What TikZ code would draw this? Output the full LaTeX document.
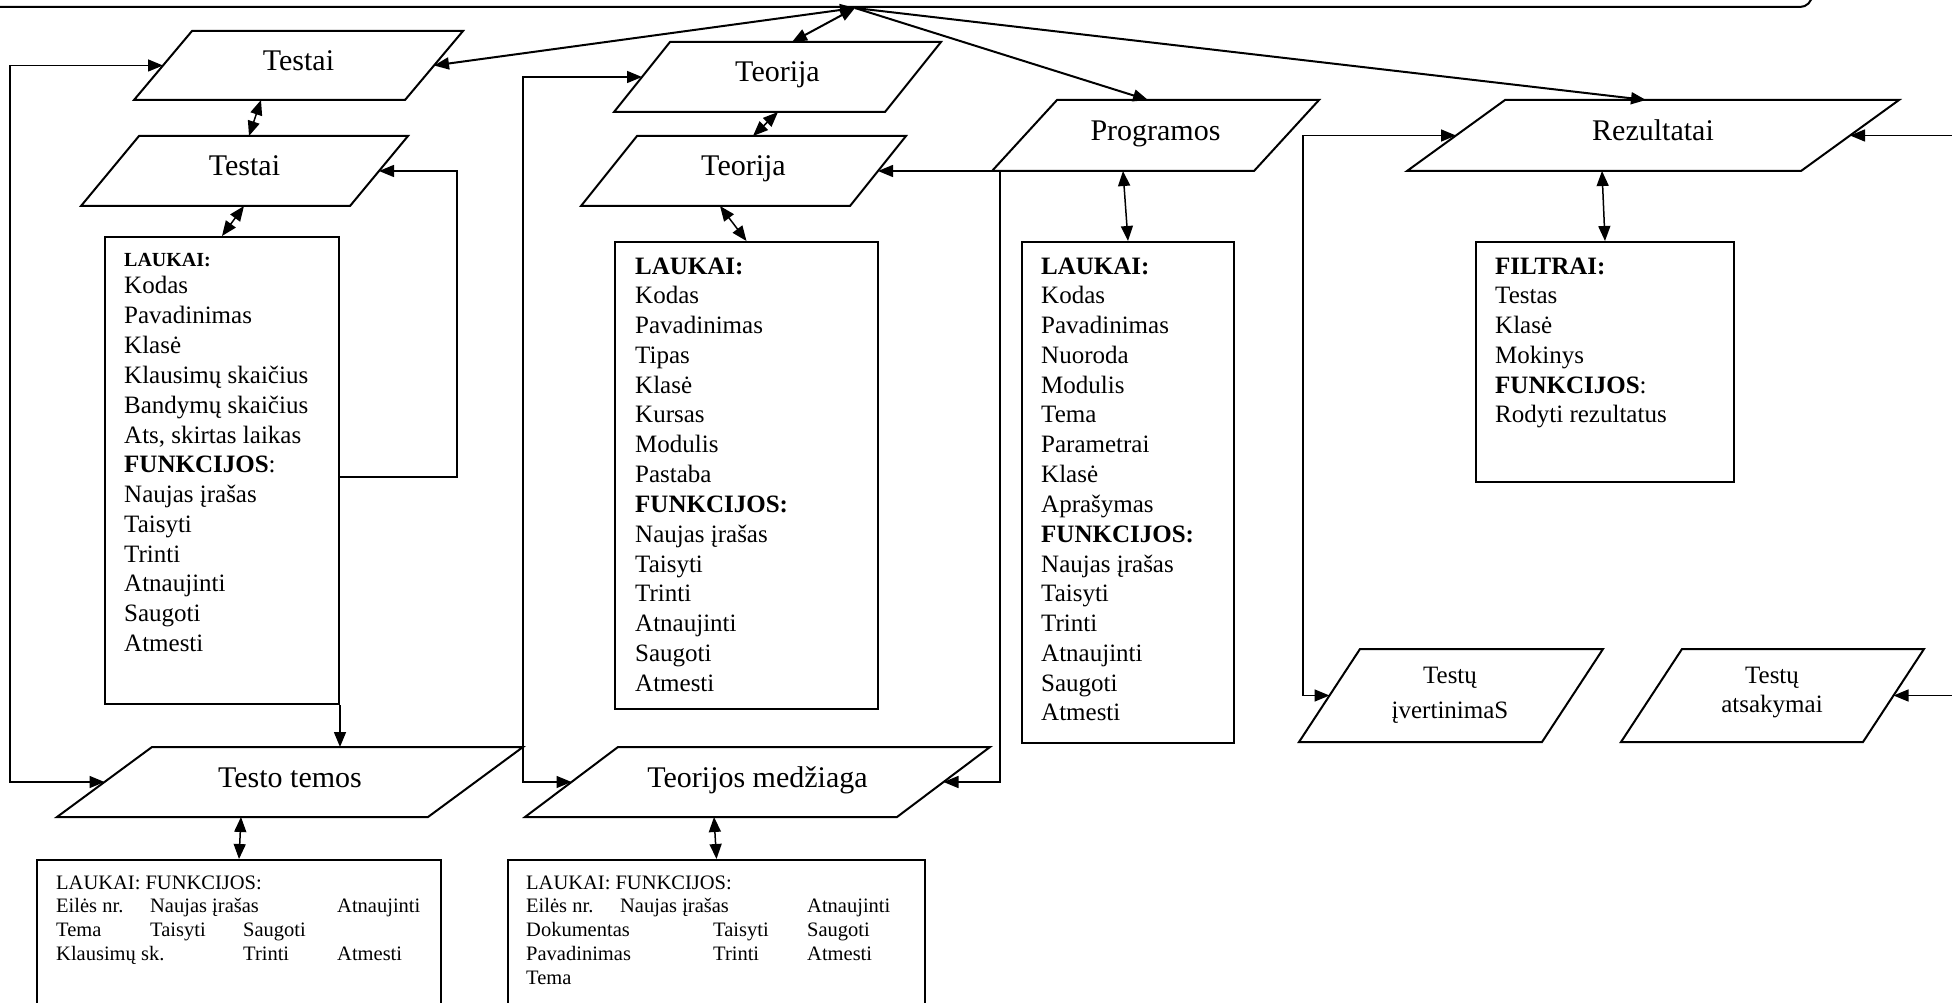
\documentclass[tikz,border=0pt]{standalone}
\usepackage{fontspec}
\setmainfont{Liberation Serif}
\usetikzlibrary{arrows.meta,calc}

\newcommand\bodyfont{\fontsize{25}{29.8}\selectfont}
\newcommand\headfont{\fontsize{30}{34}\selectfont}
\newcommand\smallfont{\fontsize{20.5}{23.8}\selectfont}

\tikzset{
  Tri/.tip={Triangle[length=15pt,width=12pt]},
  pgram/.style={draw, line width=2pt, line join=miter},
  fieldbox/.style={draw, line width=2pt, inner sep=0pt, anchor=north west},
  conn/.style={line width=1.5pt},
  hubline/.style={line width=2pt},
  headtxt/.style={inner sep=0pt, anchor=base, font=\headfont},
  txt/.style={inner sep=0pt, anchor=base west, font=\bodyfont},
  smalltxt/.style={inner sep=0pt, anchor=base west, font=\smallfont},
}

% parallelogram: name, top y, bottom y, bottom-left x, bottom-right x, slant
\newcommand\parallelbox[6]{%
  \coordinate (#1-bl) at (#4,#3);
  \coordinate (#1-br) at (#5,#3);
  \coordinate (#1-tl) at ({#4+#6},#2);
  \coordinate (#1-tr) at ({#5+#6},#2);
  \coordinate (#1-w) at ($(#1-tl)!0.5!(#1-bl)$);
  \coordinate (#1-e) at ($(#1-tr)!0.5!(#1-br)$);
  \coordinate (#1-c) at ($(#1-w)!0.5!(#1-e)$);
  \draw[pgram] (#1-bl) -- (#1-br) -- (#1-tr) -- (#1-tl) -- cycle;}

\begin{document}
\begin{tikzpicture}[x=1pt,y=-1pt]
\useasboundingbox (0,0) rectangle (1952,1003);
\clip (0,0) rectangle (1952,1003);
\fill[white] (0,0) rectangle (1952,1003);

% main menu bar along the top
\draw[line width=2pt, rounded corners=12pt] (-30,-40) rectangle (1812,7);
\coordinate (hub) at (855,8);

% parallelograms
\parallelbox{tA}{31}{100}{134}{405}{58}
\parallelbox{tB}{136}{206}{81}{350}{58}
\parallelbox{thA}{42}{112}{614}{885}{56}
\parallelbox{thB}{136}{206}{581}{850}{56}
\parallelbox{pA}{100}{171}{992}{1254}{65}
\parallelbox{rA}{100}{171}{1407}{1801}{98}
\parallelbox{ttA}{747}{817}{57}{428}{95}
\parallelbox{tmA}{747}{817}{525}{897}{93}
\parallelbox{tiA}{649}{742}{1299}{1542}{61}
\parallelbox{taA}{649}{742}{1621}{1863}{61}

% titles
\node[headtxt] (tA) at ($(tA-c)+(0,5)$) {Testai};
\node[headtxt] (tB) at ($(tB-c)+(0,5)$) {Testai};
\node[headtxt] (thA) at ($(thA-c)+(0,5)$) {Teorija};
\node[headtxt] (thB) at ($(thB-c)+(0,5)$) {Teorija};
\node[headtxt] (pA) at ($(pA-c)+(0,5)$) {Programos};
\node[headtxt] (rA) at ($(rA-c)+(0,5)$) {Rezultatai};
\node[headtxt] (ttA) at ($(ttA-c)+(0,5)$) {Testo temos};
\node[headtxt] (tmA) at ($(tmA-c)+(0,5)$) {Teorijos medžiaga};
\node[inner sep=0pt, anchor=base, font=\bodyfont] (tiA) at (1450,683)
  {\parbox[t]{200pt}{\centering Testų\\[5.2pt] įvertinimaS}};
\node[inner sep=0pt, anchor=base, font=\bodyfont] (taA) at (1772,683)
  {\parbox[t]{200pt}{\centering Testų\\ atsakymai}};

% field boxes
\node[fieldbox, minimum width=234pt, minimum height=467pt] (tBox) at (104,236) {};
\node[fieldbox, minimum width=263pt, minimum height=467pt] (thBox) at (614,241) {};
\node[fieldbox, minimum width=212pt, minimum height=501pt] (pBox) at (1021,241) {};
\node[fieldbox, minimum width=258pt, minimum height=240pt] (fBox) at (1475,241) {};
\node[fieldbox, minimum width=404pt, minimum height=180pt] (b1) at (36,859) {};
\node[fieldbox, minimum width=417pt, minimum height=180pt] (b2) at (507,859) {};

% field lists
\node[txt] (tList) at (124,266) {\parbox[t]{210pt}{\raggedright
  {\fontsize{20}{24}\selectfont\bfseries LAUKAI:}\\[-1.8pt]
  Kodas\\ Pavadinimas\\ Klasė\\ Klausimų skaičius\\ Bandymų skaičius\\
  Ats, skirtas laikas\\ \textbf{FUNKCIJOS}:\\ Naujas įrašas\\ Taisyti\\
  Trinti\\ Atnaujinti\\ Saugoti\\ Atmesti}};
\node[txt] (thList) at (635,274) {\parbox[t]{230pt}{\raggedright
  \textbf{LAUKAI:}\\ Kodas\\ Pavadinimas\\ Tipas\\ Klasė\\ Kursas\\ Modulis\\
  Pastaba\\ \textbf{FUNKCIJOS:}\\ Naujas įrašas\\ Taisyti\\ Trinti\\
  Atnaujinti\\ Saugoti\\ Atmesti}};
\node[txt] (pList) at (1041,274) {\parbox[t]{190pt}{\raggedright
  \textbf{LAUKAI:}\\ Kodas\\ Pavadinimas\\ Nuoroda\\ Modulis\\ Tema\\
  Parametrai\\ Klasė\\ Aprašymas\\ \textbf{FUNKCIJOS:}\\ Naujas įrašas\\
  Taisyti\\ Trinti\\ Atnaujinti\\ Saugoti\\ Atmesti}};
\node[txt] (fList) at (1495,274) {\parbox[t]{230pt}{\raggedright
  \textbf{FILTRAI:}\\ Testas\\ Klasė\\ Mokinys\\ \textbf{FUNKCIJOS}:\\
  Rodyti rezultatus}};
\node[smalltxt] (b1List) at (56,889) {\parbox[t]{380pt}{\raggedright
  LAUKAI: FUNKCIJOS:\\
  \makebox[94pt][l]{Eilės nr.}\makebox[187pt][l]{Naujas įrašas}Atnaujinti\\
  \makebox[94pt][l]{Tema}\makebox[93pt][l]{Taisyti}Saugoti\\
  \makebox[187pt][l]{Klausimų sk.}\makebox[94pt][l]{Trinti}Atmesti}};
\node[smalltxt] (b2List) at (526,889) {\parbox[t]{390pt}{\raggedright
  LAUKAI: FUNKCIJOS:\\
  \makebox[94pt][l]{Eilės nr.}\makebox[187pt][l]{Naujas įrašas}Atnaujinti\\
  \makebox[187pt][l]{Dokumentas}\makebox[94pt][l]{Taisyti}Saugoti\\
  \makebox[187pt][l]{Pavadinimas}\makebox[94pt][l]{Trinti}Atmesti\\
  Tema}};

% connection points on the parallelogram edges
\coordinate (tA-top) at (261,31);  \coordinate (tA-bot) at (261,100);
\coordinate (tB-top) at (249,136); \coordinate (tB-bot) at (244,206);
\coordinate (thA-top) at (792,42); \coordinate (thA-bot) at (778,112);
\coordinate (thB-top) at (753,136); \coordinate (thB-bot) at (720,206);
\coordinate (pA-top) at (1148,100); \coordinate (pA-bot) at (1123,171);
\coordinate (rA-top) at (1646,100); \coordinate (rA-bot) at (1602,171);
\coordinate (ttA-bot) at (241,817); \coordinate (tmA-bot) at (714,817);

% rails
\coordinate (railL) at (10,0);
\coordinate (railT) at (523,0);
\coordinate (railP) at (1000,171);
\coordinate (railR) at (1303,0);
\coordinate (tLoop) at (457,0);
\coordinate (edgeR) at (1960,0);

% links from the menu bar
\draw[hubline, Tri-Tri] (hub) -- (tA-e);
\draw[hubline, Tri-Tri] (hub) -- (thA-top);
\draw[hubline, -Tri] (hub) -- (pA-top);
\draw[hubline, -Tri] (hub) -- (rA-top);

% vertical links
\draw[conn, Tri-Tri] (tA-bot) -- (tB-top);
\draw[conn, Tri-Tri] (tB-bot) -- (tBox.north);
\draw[conn, Tri-Tri] (thA-bot) -- (thB-top);
\draw[conn, Tri-Tri] (thB-bot) -- (thBox.north);
\draw[conn, Tri-Tri] (pA-bot) -- (pBox.north);
\draw[conn, Tri-Tri] (rA-bot) -- (fBox.north);
\draw[conn, Tri-Tri] (ttA-bot) -- (b1.north);
\draw[conn, Tri-Tri] (tmA-bot) -- (b2.north);

% Testai loops
\draw[conn, Tri-Tri] (tA-w) -- (tA-w -| railL) -- (ttA-w -| railL) -- (ttA-w);
\draw[conn, -Tri] ([yshift=-241pt]tBox.north east) -- ([yshift=-241pt]tBox.north east -| tLoop)
  -- (tB-e -| tLoop) -- (tB-e);
\draw[conn, -Tri] (tBox.south east) -- (tBox.south east |- ttA-tl);

% Teorija loops
\draw[conn, Tri-Tri] (thA-w) -- (thA-w -| railT) -- (tmA-w -| railT) -- (tmA-w);
\draw[conn, -Tri] (railP) -- (railP |- tmA-e) -- (tmA-e);
\draw[conn, -Tri] (railP) -- (thB-e);

% Rezultatai links
\draw[conn, Tri-Tri] (rA-w) -- (rA-w -| railR) -- (tiA-w -| railR) -- (tiA-w);
\draw[conn, -Tri] (rA-e -| edgeR) -- (rA-e);
\draw[conn, -Tri] (taA-e -| edgeR) -- (taA-e);
\end{tikzpicture}
\end{document}
